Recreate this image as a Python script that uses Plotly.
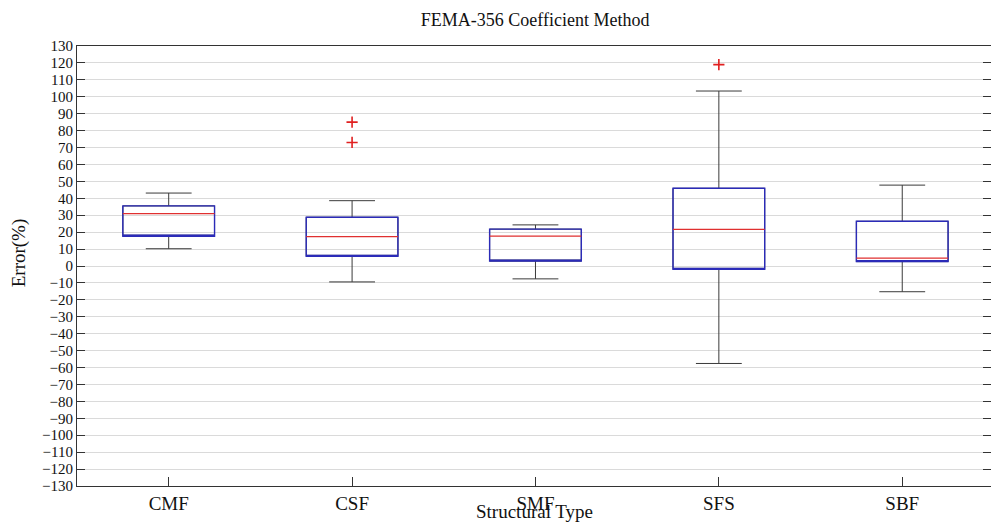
import plotly.graph_objects as go

categories = ["CMF", "CSF", "SMF", "SFS", "SBF"]
q1 = [17.6, 5.7, 2.9, -2.0, 2.6]
median = [31.0, 17.3, 17.6, 21.6, 4.6]
q3 = [35.5, 28.8, 21.8, 45.9, 26.4]
lower_whisker = [10.2, -9.4, -7.6, -57.6, -15.2]
upper_whisker = [43.1, 38.6, 24.3, 103.4, 47.8]
outlier_cats = ["CSF", "CSF", "SFS"]
outlier_vals = [85.0, 73.0, 119.0]
ytick_vals = list(range(-130, 131, 10))

FONT = "Liberation Serif"
fig = go.Figure()

# whiskers and caps (median drawn on the box edge so it stays hidden)
fig.add_trace(go.Box(
    x=categories, q1=q1, median=q1, q3=q3,
    lowerfence=lower_whisker, upperfence=upper_whisker,
    width=0.5, whiskerwidth=0.5,
    line=dict(color="#3a3a3a", width=1),
    fillcolor="rgba(0,0,0,0)", boxpoints=False, hoverinfo="skip",
    showlegend=False,
))
# blue boxes
fig.add_trace(go.Box(
    x=categories, q1=q1, median=q1, q3=q3,
    lowerfence=q1, upperfence=q3,
    width=0.5, whiskerwidth=0,
    line=dict(color="#2b2bb8", width=1.4),
    fillcolor="rgba(0,0,0,0)", boxpoints=False,
    showlegend=False,
))
# red medians
fig.add_trace(go.Box(
    x=categories, q1=median, median=median, q3=median,
    lowerfence=median, upperfence=median,
    width=0.5, whiskerwidth=0,
    line=dict(color="#e03030", width=1.3),
    fillcolor="rgba(0,0,0,0)", boxpoints=False, hoverinfo="skip",
    showlegend=False,
))
# outliers
fig.add_trace(go.Scatter(
    x=outlier_cats, y=outlier_vals, mode="markers",
    marker=dict(symbol="cross-thin-open", size=8, color="#e02020",
                line=dict(color="#e02020", width=1.6)),
    showlegend=False,
))

fig.update_layout(
    width=991, height=525,
    margin=dict(l=77, r=0, t=46, b=39, autoexpand=False),
    paper_bgcolor="white", plot_bgcolor="white",
    boxmode="overlay",
    title=dict(text="FEMA-356 Coefficient Method", x=0.54, xanchor="center",
               y=0.963, yanchor="middle",
               font=dict(family=FONT, size=18, color="#111")),
    font=dict(family=FONT, color="#111"),
    annotations=[
        dict(text="Structural Type", xref="paper", yref="paper",
             x=0.5, y=-0.059, xanchor="center", yanchor="middle",
             showarrow=False, font=dict(family=FONT, size=19, color="#111")),
        dict(text="Error(%)", xref="paper", yref="paper",
             x=-0.064, y=0.53, xanchor="center", yanchor="middle",
             textangle=-90, showarrow=False,
             font=dict(family=FONT, size=19, color="#111")),
    ],
)
fig.update_xaxes(
    type="category", categoryorder="array", categoryarray=categories,
    range=[-0.5, 4.484], automargin=False,
    showline=True, linecolor="#333", linewidth=1.2, mirror=True,
    ticks="inside", ticklen=9, tickcolor="#333",
    tickfont=dict(family=FONT, size=19, color="#111"),
    showgrid=False, zeroline=False,
)
fig.update_yaxes(
    range=[-130, 130], tickvals=ytick_vals, automargin=False,
    showline=True, linecolor="#333", linewidth=1.2, mirror="ticks",
    ticks="inside", ticklen=8, tickcolor="#333",
    tickfont=dict(family=FONT, size=15, color="#111"),
    showgrid=True, gridcolor="#dadada", gridwidth=1, zeroline=False,
)

fig.write_html("out.html", config={"displayModeBar": False},
               post_script="document.body.style.margin='0';")
